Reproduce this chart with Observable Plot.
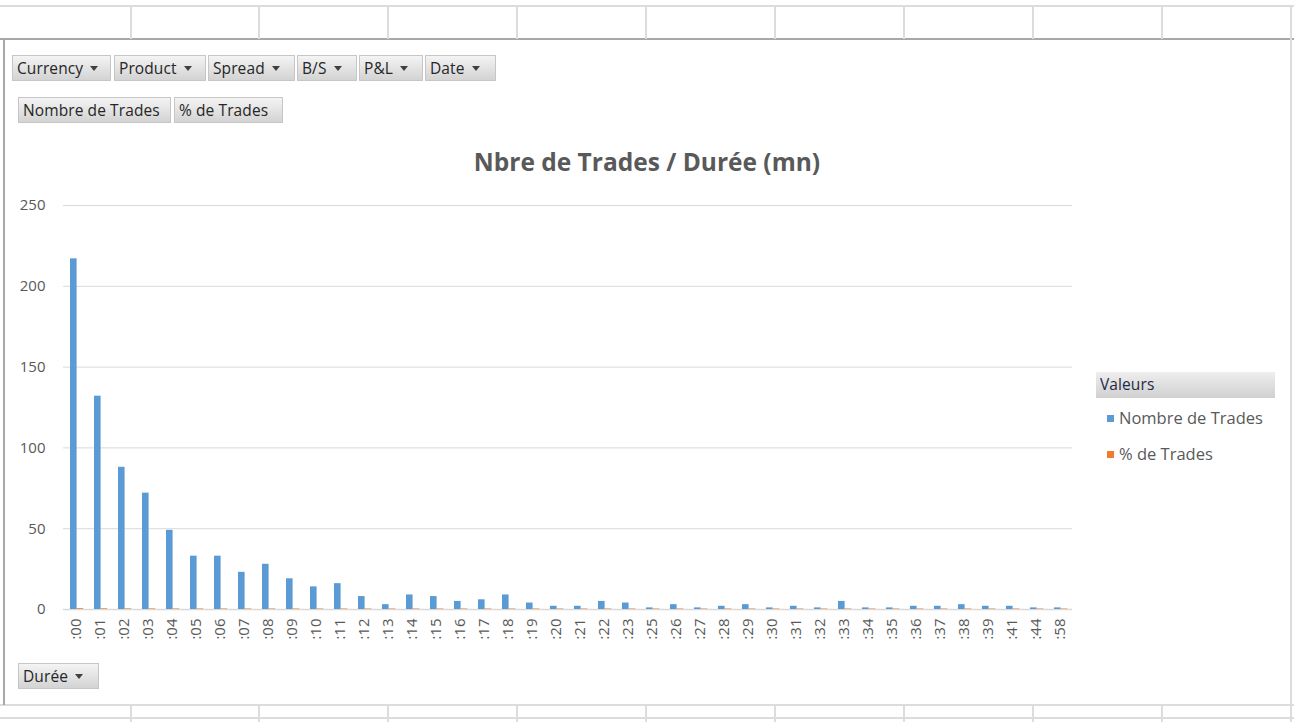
<!DOCTYPE html>
<html>
<head>
<meta charset="utf-8">
<script src="https://cdn.jsdelivr.net/npm/d3@7"></script>
<script src="https://cdn.jsdelivr.net/npm/@observablehq/plot@0.6"></script>
<style>
  html, body { margin: 0; padding: 0; background: #fff; }
  body { width: 1294px; height: 722px; position: relative; overflow: hidden; font-family: "Open Sans", sans-serif; }
  .hline { position: absolute; height: 0; border-top: 2px solid #dcdcdc; }
  .vline { position: absolute; width: 0; border-left: 2px solid #dcdcdc; }
  .btn { position: absolute; height: 26px; box-sizing: border-box; border: 1px solid #c6c6c6;
         background: linear-gradient(#f4f4f4, #d3d3d3); color: #262626; font-size: 15.5px;
         line-height: 24px; padding-left: 4px; white-space: nowrap; letter-spacing: 0.1px; }
  .arrow { display: inline-block; width: 0; height: 0; border-left: 4.5px solid transparent; border-right: 4.5px solid transparent;
           border-top: 5px solid #404040; margin-left: 7px; vertical-align: middle; position: relative; top: -1px; }
  #title { position: absolute; left: 0; width: 1294px; top: 145px; text-align: center; font-weight: bold; font-size: 24.5px; color: #595959; line-height: 34px; }
  #chart { position: absolute; left: 0; top: 190px; }
  .leg { position: absolute; font-size: 16.5px; color: #595959; white-space: nowrap; }
  .sw { position: absolute; width: 7px; height: 7px; }
</style>
</head>
<body>
<div id="sheet"></div>
<div id="title">Nbre de Trades / Durée (mn)</div>
<div id="chart"></div>
<div id="legend"></div>
<script>
const categories = [":00",":01",":02",":03",":04",":05",":06",":07",":08",":09",":10",":11",":12",":13",":14",":15",":16",":17",":18",":19",":20",":21",":22",":23",":25",":26",":27",":28",":29",":30",":31",":32",":33",":34",":35",":36",":37",":38",":39",":41",":44",":58"];
const nombreDeTrades = [217,132,88,72,49,33,33,23,28,19,14,16,8,3,9,8,5,6,9,4,2,2,5,4,1,3,1,2,3,1,2,1,5,1,1,2,2,3,2,2,1,1];
const pctDeTrades = [0.2637,0.1604,0.1069,0.0875,0.0595,0.0401,0.0401,0.0279,0.0340,0.0231,0.0170,0.0194,0.0097,0.0036,0.0109,0.0097,0.0061,0.0073,0.0109,0.0049,0.0024,0.0024,0.0061,0.0049,0.0012,0.0036,0.0012,0.0024,0.0036,0.0012,0.0024,0.0012,0.0061,0.0012,0.0012,0.0024,0.0024,0.0036,0.0024,0.0024,0.0012,0.0012];
const yTicks = [0, 50, 100, 150, 200, 250];
const seriesNames = ["Nombre de Trades", "% de Trades"];
const seriesColors = ["#5B9BD5", "#ED7D31"];
const filterFields = ["Currency", "Product", "Spread", "B/S", "P&L", "Date"];
const valueFields = ["Nombre de Trades", "% de Trades"];
const rowField = "Durée";
const legendTitle = "Valeurs";

// ---- spreadsheet frame decoration ----
const sheet = document.getElementById("sheet");
function add(cls, style) { const d = document.createElement("div"); d.className = cls; Object.assign(d.style, style); sheet.appendChild(d); return d; }
const colX = [130, 258, 387, 516, 645, 774, 903, 1032, 1161, 1290];
add("hline", {left: "0px", top: "5px", width: "1294px"});
add("hline", {left: "0px", top: "38px", width: "1294px", borderTop: "2px solid #a8a8a8"});
add("hline", {left: "0px", top: "704px", width: "1294px"});
add("hline", {left: "0px", top: "717px", width: "1294px"});
colX.forEach(x => { add("vline", {left: x + "px", top: "5px", height: "34px"}); add("vline", {left: x + "px", top: "704px", height: "18px"}); });
add("vline", {left: "3px", top: "38px", height: "667px", borderLeft: "2px solid #a8a8a8"});
add("vline", {left: "1290px", top: "38px", height: "667px"});

// buttons
function button(text, left, top, width, arrow) {
  const b = add("btn", {left: left + "px", top: top + "px", width: width + "px"});
  b.textContent = text;
  if (arrow) { const a = document.createElement("span"); a.className = "arrow"; b.appendChild(a); }
}
const filterPos = [[12, 99], [114, 92], [208, 87], [297, 60], [359, 64], [425, 71]];
filterFields.forEach((f, i) => button(f, filterPos[i][0], 55, filterPos[i][1], true));
const valuePos = [[18, 153], [174, 109]];
valueFields.forEach((f, i) => button(f, valuePos[i][0], 97, valuePos[i][1], false));
button(rowField, 18, 663, 81, true);

// legend
const legend = document.getElementById("legend");
const lh = document.createElement("div");
lh.className = "btn";
Object.assign(lh.style, {left: "1096px", top: "372px", width: "179px", border: "none", background: "linear-gradient(#eeeeee, #d0d0d0)", color: "#1f2a44"});
lh.textContent = legendTitle;
legend.appendChild(lh);
seriesNames.forEach((s, i) => {
  const sw = document.createElement("div"); sw.className = "sw";
  Object.assign(sw.style, {left: "1107px", top: (415 + i * 36) + "px", background: seriesColors[i]});
  legend.appendChild(sw);
  const t = document.createElement("div"); t.className = "leg";
  Object.assign(t.style, {left: "1119px", top: (406 + i * 36) + "px"});
  t.textContent = s;
  legend.appendChild(t);
});

// ---- chart ----
const data = categories.map((c, i) => ({cat: c, n: nombreDeTrades[i], p: pctDeTrades[i]}));
const chart = Plot.plot({
  width: 1100,
  height: 470,
  marginLeft: 63,
  marginRight: 28,
  marginTop: 15,
  marginBottom: 51,
  style: {fontFamily: "Open Sans, sans-serif", fontSize: "15px", color: "#595959", background: "transparent"},
  x: {domain: categories, padding: 0, label: null, tickSize: 0, tickPadding: 9, tickRotate: -90},
  y: {domain: [0, 250], ticks: yTicks, label: null, tickSize: 0, tickPadding: 18},
  marks: [
    Plot.gridY(yTicks.filter(t => t > 0), {stroke: "#d9d9d9", strokeOpacity: 1, strokeWidth: 1}),
    Plot.ruleY([0], {stroke: "#d9d9d9", strokeWidth: 1.5}),
    Plot.barY(data, {x: "cat", y: "n", fill: seriesColors[0], insetLeft: 6, insetRight: 11.4}),
    Plot.barY(data, {x: "cat", y: "p", fill: seriesColors[1], insetLeft: 12.6, insetRight: 4.8, insetTop: -0.6, fillOpacity: 0.8})
  ]
});
document.getElementById("chart").appendChild(chart);
</script>
</body>
</html>
